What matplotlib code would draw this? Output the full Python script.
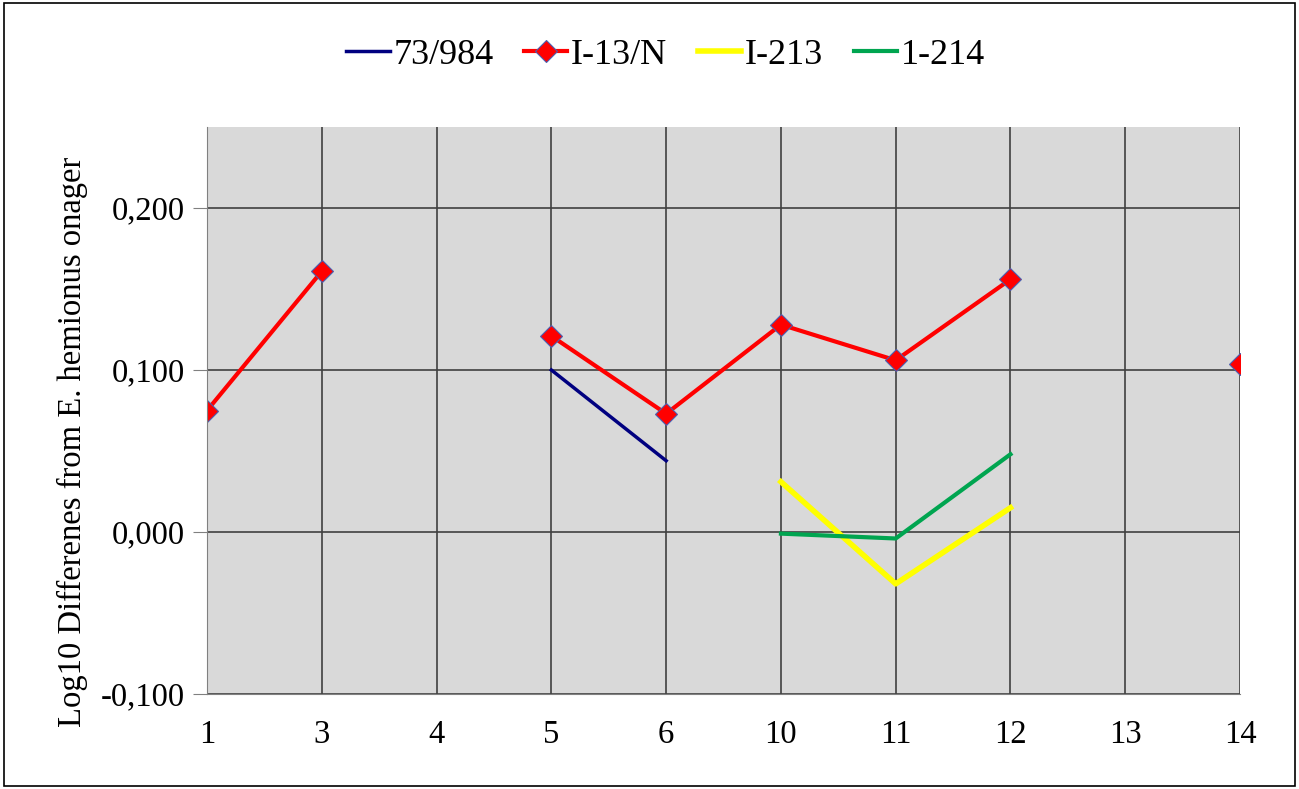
import matplotlib.pyplot as plt
import numpy as np
from matplotlib.patches import Rectangle

plt.rcParams['font.family'] = ['Liberation Serif', 'DejaVu Serif']

# categories along x (evenly spaced, not numeric)
categories = ['1', '3', '4', '5', '6', '10', '11', '12', '13', '14']

# NaN = no value for that category
s_73_984 = [np.nan, np.nan, np.nan, 0.100, 0.044, np.nan, np.nan, np.nan, np.nan, np.nan]
s_i13n = [0.075, 0.161, np.nan, 0.121, 0.073, 0.128, 0.106, 0.156, np.nan, 0.104]
s_i213 = [np.nan, np.nan, np.nan, np.nan, np.nan, 0.031, -0.032, 0.015, np.nan, np.nan]
s_1214 = [np.nan, np.nan, np.nan, np.nan, np.nan, -0.001, -0.004, 0.048, np.nan, np.nan]

x = np.arange(len(categories))

fig = plt.figure(figsize=(12.99, 7.89), dpi=100)
ax = fig.add_axes([0.1594, 0.1204, 0.7952, 0.7186])
ax.set_facecolor('#d9d9d9')

ax.plot(x, s_73_984, color='#000080', lw=2.5, label='73/984')
ax.plot(x, s_i13n, color='#ff0000', lw=3, marker='D', ms=11,
        markerfacecolor='#ff0000', markeredgecolor='#4a5fb0', markeredgewidth=0.8,
        label='I-13/N')
ax.plot(x, s_i213, color='#ffff00', lw=4, label='I-213')
ax.plot(x, s_1214, color='#00a550', lw=3, label='1-214')

ax.set_xlim(0, len(categories) - 1)
ax.set_ylim(-0.1, 0.25)
ax.set_xticks(x)
ax.set_xticklabels(categories)
ax.set_yticks([-0.1, 0.0, 0.1, 0.2])
ax.set_yticklabels(['-0,100', '0,000', '0,100', '0,200'])
ax.grid(True, color='#404040', lw=1.2)
ax.set_axisbelow(True)

for side in ['top', 'right']:
    ax.spines[side].set_visible(False)
ax.spines['left'].set_color('#808080')
ax.spines['bottom'].set_color('#808080')
ax.tick_params(axis='y', length=10, color='#808080', labelsize=23.5, pad=6)
ax.tick_params(axis='x', length=0, labelsize=23.5, pad=18)

ax.set_ylabel('Log10 Differenes from E. hemionus onager', fontsize=23.5)
ax.yaxis.set_label_coords(-0.115, 0.444)

ax.legend(loc='center', bbox_to_anchor=(0.444, 1.127), ncol=4, frameon=False,
          fontsize=26, handlelength=1.2, handletextpad=0.1, columnspacing=0.85)

fig.patches.append(Rectangle((0.003, 0.004), 0.994, 0.992, transform=fig.transFigure,
                             fill=False, edgecolor='black', lw=1.2))

fig.savefig('out.png', dpi=100)
